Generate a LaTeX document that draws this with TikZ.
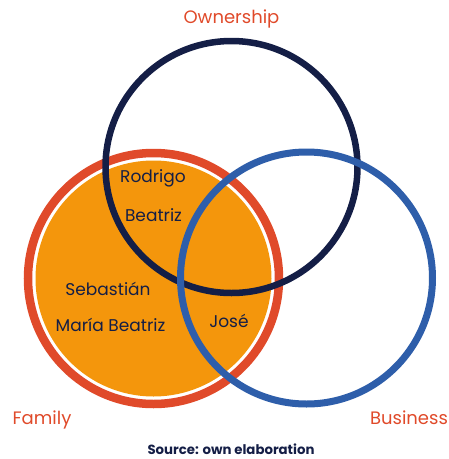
\documentclass[tikz,border=0pt]{standalone}
\usepackage{fontspec}
\setmainfont{Poppins}
\usepackage{xcolor}
\usepackage{tikz}
\usetikzlibrary{positioning,calc}

\definecolor{navy}{HTML}{141E46}
\definecolor{bizblue}{HTML}{2E5EAA}
\definecolor{famred}{HTML}{E04A2A}
\definecolor{famorange}{HTML}{F4960C}

\tikzset{
  setlabel/.style={text=famred, font=\fontsize{18}{21}\selectfont},
  person/.style={text=navy, font=\fontsize{17}{20}\selectfont},
}

\begin{document}
\begin{tikzpicture}[x=1pt,y=-1pt]
        \useasboundingbox (0,0) rectangle (449,459);
        % family set
        \fill[famorange] (153.5,278.5) circle (118);
        \draw[famred, line width=8.5pt] (153.5,278.5) circle (125.5);
        % ownership and business
        \draw[navy, line width=6.5pt] (231.5,167) circle (126);
        \draw[bizblue, line width=7pt] (306.5,278) circle (126);

        \node[setlabel] (own) at (231.5,19) {Ownership};
        \node[setlabel] (fam) at (42,420) {Family};
        \node[setlabel] (bus) at (409,418) {Business};

        \node[person] (rod) at (153,178) {Rodrigo};
        \node[person] (bea) at (153.5,215.5) {Beatriz};
        \node[person] (seb) at (108,289) {Sebastián};
        \node[person] (mar) at (110.5,325) {María Beatriz};
        \node[person] (jos) at (229,321) {José};

        \node[text=navy, font=\bfseries\fontsize{13.3}{16}\selectfont] (src) at (231,449.5) {Source: own elaboration};
    \end{tikzpicture}
\end{document}
